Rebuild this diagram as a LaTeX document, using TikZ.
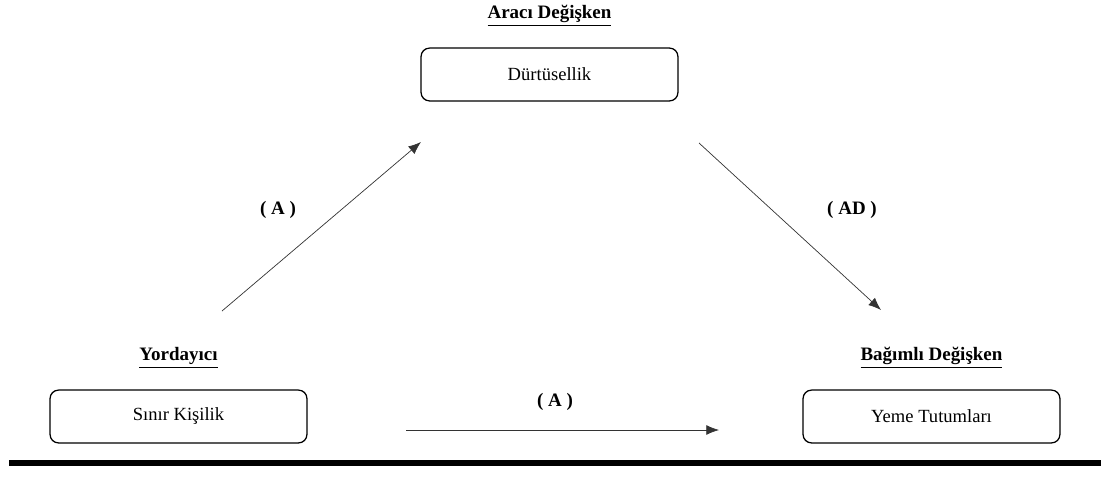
\documentclass[tikz,border=0pt]{standalone}
\usepackage{fontspec}
\setmainfont{Liberation Serif}
\usetikzlibrary{positioning,arrows.meta}

\begin{document}
\begin{tikzpicture}[x=0.025cm,y=-0.025cm]
\tikzset{var/.style={draw,line width=0.9pt,rounded corners=6pt,minimum width=6.42cm,minimum height=1.32cm,font=\fontsize{13.2}{15}\selectfont},
  title/.style={font=\fontsize{13.5}{15}\bfseries\selectfont},
  path/.style={font=\fontsize{13.5}{15}\bfseries\selectfont},
  link/.style={->,>={Latex[length=9pt,width=7pt]},line width=0.5pt,black!80}};
   \useasboundingbox (0,0) rectangle (1103,480);

   \node[var] at (549.5,74.5) (M) {Dürtüsellik};
   \node[var] at (178.5,416.5) (X) {Sınır Kişilik};
   \node[var] at (931.5,416.5) (Y) {Yeme Tutumları};

   \node[title] [above = 0.42cm of M] (Mt) {\underline{Aracı Değişken}};
   \node[title] [above = 0.42cm of X] (Xt) {\underline{Yordayıcı}};
   \node[title] [above = 0.42cm of Y] (Yt) {\underline{Bağımlı Değişken}};

   \coordinate (a0) at (222,311);
   \coordinate (a1) at (421,142);
   \coordinate (b0) at (699,143);
   \coordinate (b1) at (881,310);
   \coordinate (c0) at (406,430);
   \coordinate (c1) at (719,430);

   \draw[link] (a0) -- (a1);
   \draw[link] (b0) -- (b1);
   \draw[link] (c0) -- (c1);
   \node[path] at (278,210) (pa) {( A )};
   \node[path] at (852,210) (pb) {( AD )};
   \node[path] at (555,402) (pc) {( A )};

   % alt cizgi
   \coordinate (L0) at (9,463);
   \coordinate (L1) at (1101,463);
   \draw[line width=3.6pt] (L0) -- (L1);

\end{tikzpicture}
\end{document}
